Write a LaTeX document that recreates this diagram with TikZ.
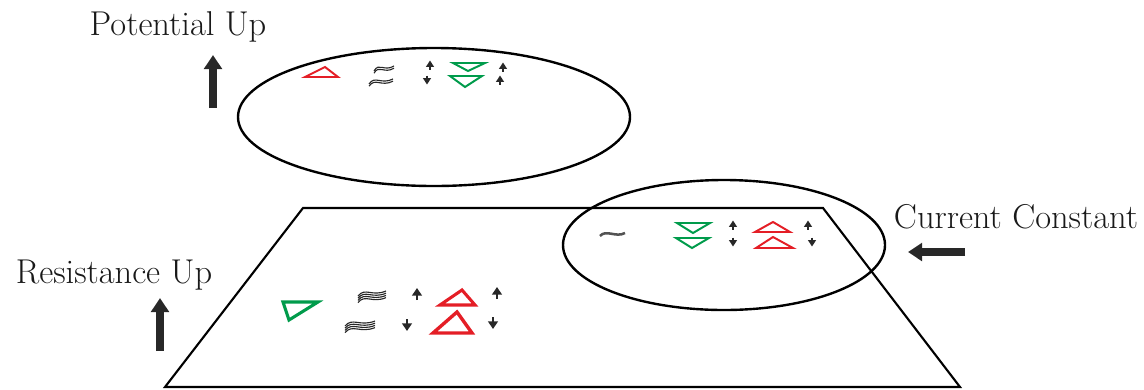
\documentclass[tikz,border=0pt]{standalone}
\usepackage{tikz}
\usetikzlibrary{arrows.meta, positioning}
\definecolor{trigreen}{RGB}{0, 155, 75}
\definecolor{trired}{RGB}{228, 30, 38}
\definecolor{inkgrey}{RGB}{40, 40, 40}

\tikzset{
  labeltext/.style={font=\fontsize{24.5}{28}\selectfont, text=black!90, inner sep=0pt},
  bigarrow/.style={line width=5pt, inkgrey, -{Triangle[width=12.5pt, length=10pt]}},
  tinyarrow/.style={line width=1.5pt, inkgrey, -{Triangle[width=5.5pt, length=4.5pt]}},
  greentri/.style={draw=trigreen, line width=1.4pt, line join=miter},
  redtri/.style={draw=trired, line width=1.4pt, line join=miter},
  wavestroke/.style={inkgrey, line width=0.8pt},
}

\begin{document}
\begin{tikzpicture}[x=0.025cm, y=-0.025cm]
  \useasboundingbox (0, 0) rectangle (1144, 389);

  % Labels and their arrows
  \node[labeltext] (potential) at (178, 27) {Potential Up};
  \node[labeltext] (resistance) at (114, 275) {Resistance Up};
  \node[labeltext] (current) at (1016, 217) {Current Constant};
  \coordinate (potTail) at (213, 108);
  \coordinate (potTip) at (213, 55);
  \coordinate (resTail) at (160, 351);
  \coordinate (resTip) at (160, 298);
  \coordinate (curTail) at (965, 252);
  \coordinate (curTip) at (908, 252);
  \draw[bigarrow] (potTail) -- (potTip);
  \draw[bigarrow] (resTail) -- (resTip);
  \draw[bigarrow] (curTail) -- (curTip);

  % Plane and ellipses
  \draw[line width=1.5pt, line join=miter] (303, 208) -- (823, 208) -- (960, 387) -- (165, 387) -- cycle;
  \draw[line width=1.7pt] (434, 117) ellipse [x radius=196, y radius=69];
  \draw[line width=1.7pt] (724, 245) ellipse [x radius=161, y radius=65];

  % Triangles
  \draw[redtri] (305, 77) -- (338, 77) -- (325, 67) -- cycle;
  \foreach \l/\r/\t/\a/\b in {453/485/63/468/71, 450/482/76/465/87, 677/710/223/693/233, 676/709/238/692/248} {
    \draw[greentri] (\l, \t) -- (\r, \t) -- (\a, \b) -- cycle;
  }
  \foreach \l/\r/\t/\a/\b in {755/790/232/773/222, 756/793/248/773/237} {
    \draw[redtri] (\l, \t) -- (\r, \t) -- (\a, \b) -- cycle;
  }
  \draw[greentri, line width=2.2pt] (283, 302) -- (318, 302) -- (289, 320) -- cycle;
  \draw[redtri, line width=2.2pt] (440, 305) -- (475, 305) -- (462, 290) -- cycle;
  \draw[redtri, line width=2.4pt] (433, 333) -- (472, 333) -- (457, 312) -- cycle;

  % Small arrows
  \foreach \x/\y/\d in {430/65/-1, 427/80/1, 503/67/-1, 500/80/-1, 733/225/-1, 733/242/1, 808/225/-1, 812/242/1} {
    \draw[tinyarrow] (\x, \y-4.5*\d) -- (\x, \y+4.5*\d);
  }
  \foreach \x/\y/\d in {417/294/-1, 407/325/1, 497/293/-1, 493/323/1} {
    \draw[tinyarrow, line width=1.8pt, -{Triangle[width=7pt, length=5.5pt]}] (\x, \y-6*\d) -- (\x, \y+6*\d);
  }

  % Wavy marks
  \foreach \x/\y/\s/\n in {384/68/10/1, 381/81/12/1, 372/293/14/3, 360/323/15/3} {
    \foreach \k in {0,...,\n} {
      \draw[wavestroke] (\x-\s, \y+3+\k*2.2) .. controls (\x-\s/2, \y-6+\k*2.2) and (\x, \y+4+\k*2.2) .. (\x+\s, \y-2+\k*2.2);
    }
  }
  \draw[wavestroke, line width=1.8pt, inkgrey!80] (600, 236) .. controls (606, 229) and (616, 238) .. (625, 233);
\end{tikzpicture}
\end{document}
